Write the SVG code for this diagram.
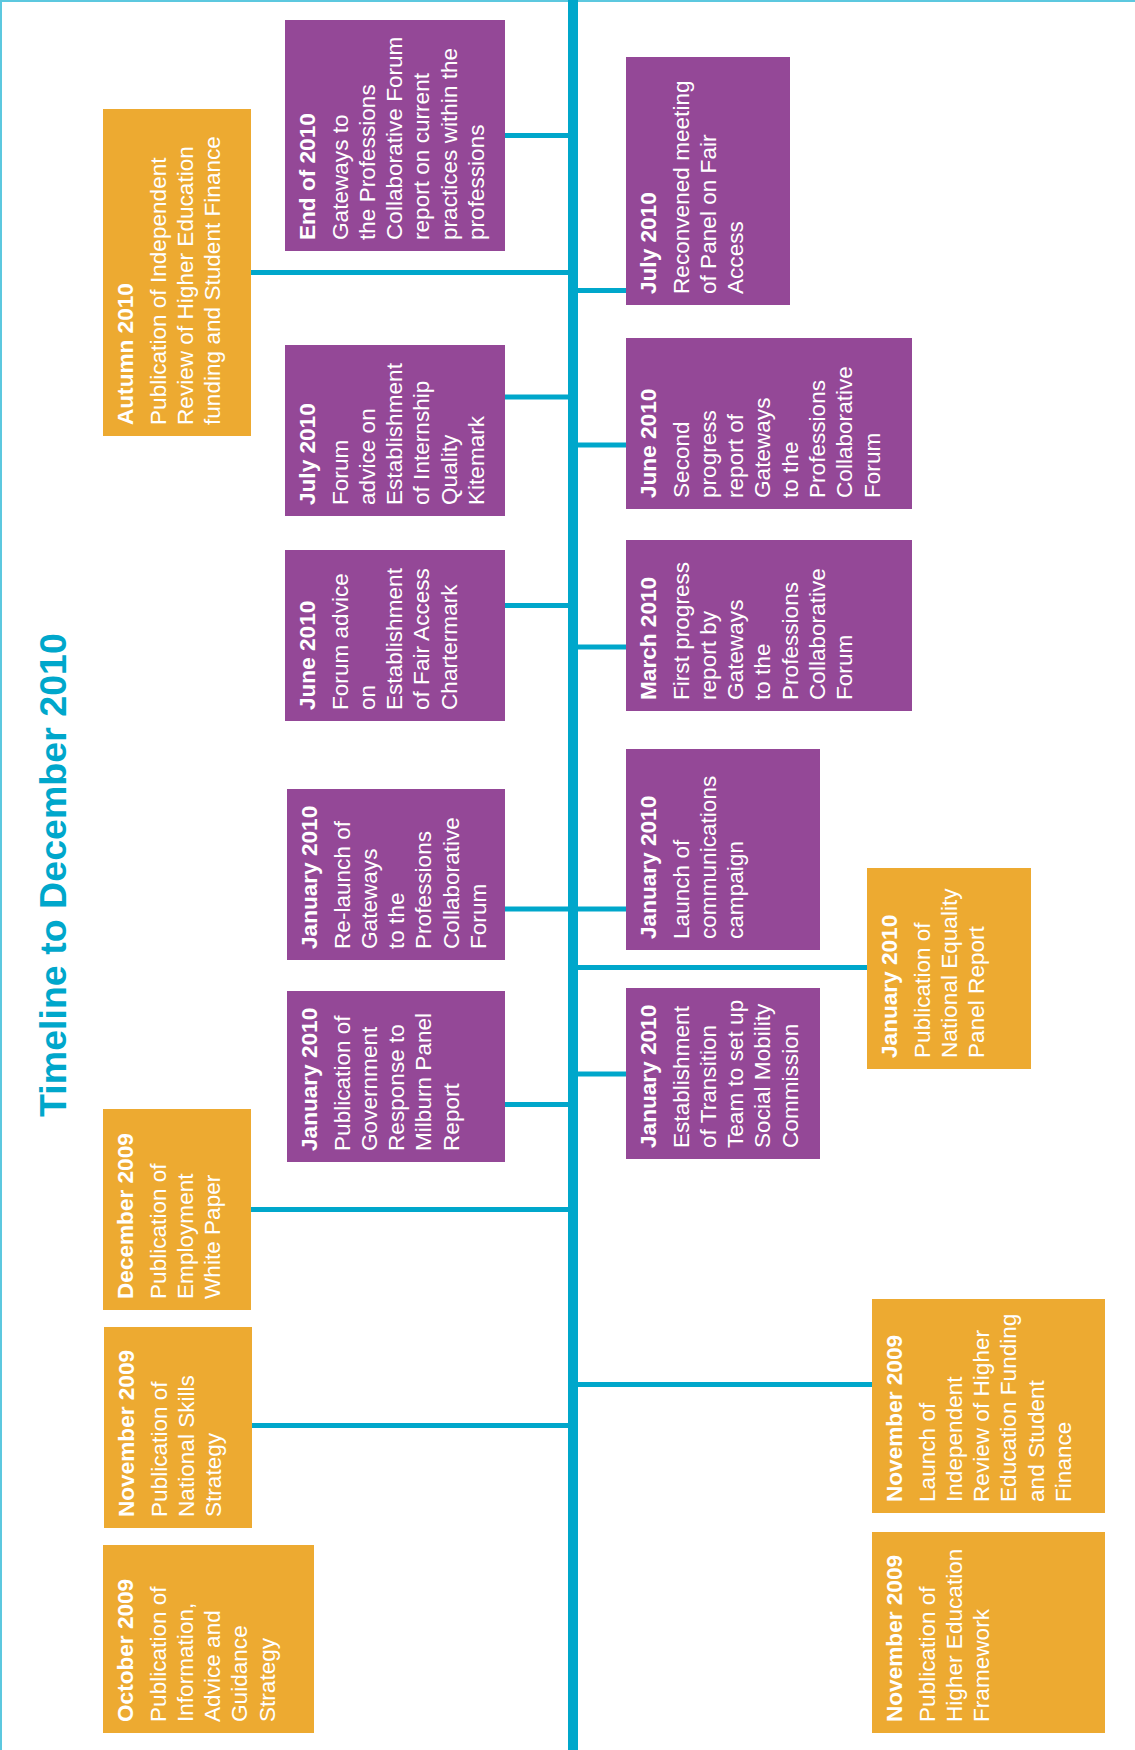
<svg xmlns="http://www.w3.org/2000/svg" width="1135" height="1750" viewBox="0 0 1135 1750">
<style>
.o{fill:#EDAA31}
.p{fill:#944897}
.t{font-family:"Liberation Sans",Arial,sans-serif;font-size:22.6px;fill:#ffffff}
.b{font-weight:bold}
.c{stroke:#00A7CB;stroke-width:5;fill:none}
.title{font-family:"Liberation Sans",Arial,sans-serif;font-size:37.6px;font-weight:bold;fill:#00A7CB}
</style>
<rect x="0" y="0" width="1135" height="1750" fill="#ffffff"/>
<rect x="0" y="0" width="1135" height="2" fill="#5CC8DF"/>
<rect x="0" y="0" width="2" height="1750" fill="#5CC8DF"/>
<text class="title" transform="translate(66,1117) rotate(-90)">Timeline to December 2010</text>
<g id="connectors">
<rect x="568" y="0" width="10" height="1750" fill="#00A7CB"/>
<line class="c" x1="505" y1="135.5" x2="568" y2="135.5"/>
<line class="c" x1="251" y1="272.5" x2="568" y2="272.5"/>
<line class="c" x1="505" y1="397" x2="568" y2="397"/>
<line class="c" x1="505" y1="605.5" x2="568" y2="605.5"/>
<line class="c" x1="505" y1="909" x2="568" y2="909"/>
<line class="c" x1="505" y1="1104.5" x2="568" y2="1104.5"/>
<line class="c" x1="251" y1="1209.5" x2="568" y2="1209.5"/>
<line class="c" x1="252" y1="1425.5" x2="568" y2="1425.5"/>
<line class="c" x1="578" y1="290.5" x2="626" y2="290.5"/>
<line class="c" x1="578" y1="445" x2="626" y2="445"/>
<line class="c" x1="578" y1="647" x2="626" y2="647"/>
<line class="c" x1="578" y1="909" x2="626" y2="909"/>
<line class="c" x1="578" y1="967.5" x2="867" y2="967.5"/>
<line class="c" x1="578" y1="1074" x2="626" y2="1074"/>
<line class="c" x1="578" y1="1384.5" x2="872" y2="1384.5"/>
</g>
<g id="autumn-2010">
<rect class="o" x="103" y="109" width="148" height="327"/>
<text class="t" transform="translate(133,425) rotate(-90)"><tspan class="b" x="0" y="0">Autumn 2010</tspan><tspan x="0" y="32.5">Publication of Independent</tspan><tspan x="0" y="59.8">Review of Higher Education</tspan><tspan x="0" y="87.1">funding and Student Finance</tspan></text>
</g>
<g id="december-2009">
<rect class="o" x="103" y="1109" width="148" height="201"/>
<text class="t" transform="translate(133,1299) rotate(-90)"><tspan class="b" x="0" y="0">December 2009</tspan><tspan x="0" y="32.5">Publication of</tspan><tspan x="0" y="59.8">Employment</tspan><tspan x="0" y="87.1">White Paper</tspan></text>
</g>
<g id="november-2009-skills">
<rect class="o" x="104" y="1327" width="148" height="201"/>
<text class="t" transform="translate(134,1517) rotate(-90)"><tspan class="b" x="0" y="0">November 2009</tspan><tspan x="0" y="32.5">Publication of</tspan><tspan x="0" y="59.8">National Skills</tspan><tspan x="0" y="87.1">Strategy</tspan></text>
</g>
<g id="october-2009">
<rect class="o" x="103" y="1545" width="211" height="188"/>
<text class="t" transform="translate(133,1722) rotate(-90)"><tspan class="b" x="0" y="0">October 2009</tspan><tspan x="0" y="32.5">Publication of</tspan><tspan x="0" y="59.8">Information,</tspan><tspan x="0" y="87.1">Advice and</tspan><tspan x="0" y="114.4">Guidance</tspan><tspan x="0" y="141.7">Strategy</tspan></text>
</g>
<g id="end-of-2010">
<rect class="p" x="285" y="20" width="220" height="231"/>
<text class="t" transform="translate(315,240) rotate(-90)"><tspan class="b" x="0" y="0">End of 2010</tspan><tspan x="0" y="32.5">Gateways to</tspan><tspan x="0" y="59.8">the Professions</tspan><tspan x="0" y="87.1">Collaborative Forum</tspan><tspan x="0" y="114.4">report on current</tspan><tspan x="0" y="141.7">practices within the</tspan><tspan x="0" y="169">professions</tspan></text>
</g>
<g id="july-2010-internship">
<rect class="p" x="285" y="345" width="220" height="171"/>
<text class="t" transform="translate(315,505) rotate(-90)"><tspan class="b" x="0" y="0">July 2010</tspan><tspan x="0" y="32.5">Forum</tspan><tspan x="0" y="59.8">advice on</tspan><tspan x="0" y="87.1">Establishment</tspan><tspan x="0" y="114.4">of Internship</tspan><tspan x="0" y="141.7">Quality</tspan><tspan x="0" y="169">Kitemark</tspan></text>
</g>
<g id="june-2010-chartermark">
<rect class="p" x="285" y="550" width="220" height="171"/>
<text class="t" transform="translate(315,710) rotate(-90)"><tspan class="b" x="0" y="0">June 2010</tspan><tspan x="0" y="32.5">Forum advice</tspan><tspan x="0" y="59.8">on</tspan><tspan x="0" y="87.1">Establishment</tspan><tspan x="0" y="114.4">of Fair Access</tspan><tspan x="0" y="141.7">Chartermark</tspan></text>
</g>
<g id="january-2010-relaunch">
<rect class="p" x="287" y="789" width="218" height="171"/>
<text class="t" transform="translate(317,949) rotate(-90)"><tspan class="b" x="0" y="0">January 2010</tspan><tspan x="0" y="32.5">Re-launch of</tspan><tspan x="0" y="59.8">Gateways</tspan><tspan x="0" y="87.1">to the</tspan><tspan x="0" y="114.4">Professions</tspan><tspan x="0" y="141.7">Collaborative</tspan><tspan x="0" y="169">Forum</tspan></text>
</g>
<g id="january-2010-milburn">
<rect class="p" x="287" y="991" width="218" height="171"/>
<text class="t" transform="translate(317,1151) rotate(-90)"><tspan class="b" x="0" y="0">January 2010</tspan><tspan x="0" y="32.5">Publication of</tspan><tspan x="0" y="59.8">Government</tspan><tspan x="0" y="87.1">Response to</tspan><tspan x="0" y="114.4">Milburn Panel</tspan><tspan x="0" y="141.7">Report</tspan></text>
</g>
<g id="july-2010-panel">
<rect class="p" x="626" y="57" width="164" height="248"/>
<text class="t" transform="translate(656,294) rotate(-90)"><tspan class="b" x="0" y="0">July 2010</tspan><tspan x="0" y="32.5">Reconvened meeting</tspan><tspan x="0" y="59.8">of Panel on Fair</tspan><tspan x="0" y="87.1">Access</tspan></text>
</g>
<g id="june-2010-progress">
<rect class="p" x="626" y="338" width="286" height="171"/>
<text class="t" transform="translate(656,498) rotate(-90)"><tspan class="b" x="0" y="0">June 2010</tspan><tspan x="0" y="32.5">Second</tspan><tspan x="0" y="59.8">progress</tspan><tspan x="0" y="87.1">report of</tspan><tspan x="0" y="114.4">Gateways</tspan><tspan x="0" y="141.7">to the</tspan><tspan x="0" y="169">Professions</tspan><tspan x="0" y="196.3">Collaborative</tspan><tspan x="0" y="223.6">Forum</tspan></text>
</g>
<g id="march-2010">
<rect class="p" x="626" y="540" width="286" height="171"/>
<text class="t" transform="translate(656,700) rotate(-90)"><tspan class="b" x="0" y="0">March 2010</tspan><tspan x="0" y="32.5">First progress</tspan><tspan x="0" y="59.8">report by</tspan><tspan x="0" y="87.1">Gateways</tspan><tspan x="0" y="114.4">to the</tspan><tspan x="0" y="141.7">Professions</tspan><tspan x="0" y="169">Collaborative</tspan><tspan x="0" y="196.3">Forum</tspan></text>
</g>
<g id="january-2010-campaign">
<rect class="p" x="626" y="749" width="194" height="201"/>
<text class="t" transform="translate(656,939) rotate(-90)"><tspan class="b" x="0" y="0">January 2010</tspan><tspan x="0" y="32.5">Launch of</tspan><tspan x="0" y="59.8">communications</tspan><tspan x="0" y="87.1">campaign</tspan></text>
</g>
<g id="january-2010-transition">
<rect class="p" x="626" y="988" width="194" height="171"/>
<text class="t" transform="translate(656,1148) rotate(-90)"><tspan class="b" x="0" y="0">January 2010</tspan><tspan x="0" y="32.5">Establishment</tspan><tspan x="0" y="59.8">of Transition</tspan><tspan x="0" y="87.1">Team to set up</tspan><tspan x="0" y="114.4">Social Mobility</tspan><tspan x="0" y="141.7">Commission</tspan></text>
</g>
<g id="january-2010-equality">
<rect class="o" x="867" y="868" width="164" height="201"/>
<text class="t" transform="translate(897,1058) rotate(-90)"><tspan class="b" x="0" y="0">January 2010</tspan><tspan x="0" y="32.5">Publication of</tspan><tspan x="0" y="59.8">National Equality</tspan><tspan x="0" y="87.1">Panel Report</tspan></text>
</g>
<g id="november-2009-review">
<rect class="o" x="872" y="1299" width="233" height="214"/>
<text class="t" transform="translate(902,1502) rotate(-90)"><tspan class="b" x="0" y="0">November 2009</tspan><tspan x="0" y="32.5">Launch of</tspan><tspan x="0" y="59.8">Independent</tspan><tspan x="0" y="87.1">Review of Higher</tspan><tspan x="0" y="114.4">Education Funding</tspan><tspan x="0" y="141.7">and Student</tspan><tspan x="0" y="169">Finance</tspan></text>
</g>
<g id="november-2009-framework">
<rect class="o" x="872" y="1532" width="233" height="201"/>
<text class="t" transform="translate(902,1722) rotate(-90)"><tspan class="b" x="0" y="0">November 2009</tspan><tspan x="0" y="32.5">Publication of</tspan><tspan x="0" y="59.8">Higher Education</tspan><tspan x="0" y="87.1">Framework</tspan></text>
</g>
</svg>
